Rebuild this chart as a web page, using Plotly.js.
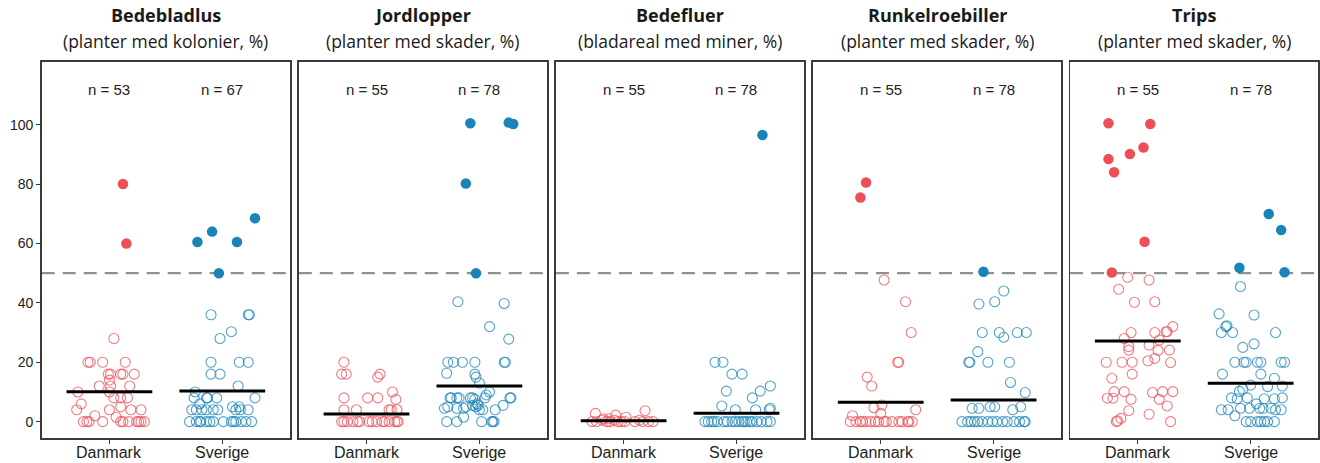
<!DOCTYPE html>
<html><head><meta charset="utf-8">
<script src="https://cdn.plot.ly/plotly-3.0.1.min.js"></script>
<style>html,body{margin:0;padding:0;background:#fff}#chart{width:1320px;height:463px}</style>
</head><body><div id="chart"></div>
<script>
// ---------------- DATA ----------------
const groups = ['Danmark', 'Sverige'];
const titles = ['Bedebladlus', 'Jordlopper', 'Bedefluer', 'Runkelroebiller', 'Trips'];
const subtitles = ['(planter med kolonier, %)', '(planter med skader, %)', '(bladareal med miner, %)', '(planter med skader, %)', '(planter med skader, %)'];
const nDK = [53, 55, 55, 55, 55];
const nSE = [67, 78, 78, 78, 78];
const medianDK = [10.1, 2.6, 0.3, 6.5, 27.2];
const medianSE = [10.3, 12, 2.8, 7.3, 12.9];
const threshold = 50;

// Bedebladlus
const bbDK = [80,60,28, 20,20,20,20, 16,16,16,16,16, 14, 12,12,12, 10,10, 8,8,8, 6, 4,4,5,4,4, 2,1.5, 0,0,0,0,0,0,0,0,0,0,0];
const bbDKjit = [0.12,0.15,0.04, -0.19,-0.17,-0.06,0.14, -0.01,0.01,0.10,0.12,0.22, 0.0, -0.09,0.01,0.18, -0.28,0, 0.10,0.16,0.04, -0.25, -0.29,0,0.10,0.19,0.28, -0.13,0.06, -0.23,-0.18,-0.06,0.10,0.17,0.24,0.26,0.28,0.31,-0.2,0.12];
const bbSE = [68.5,64,60.5,60.5,50, 36,36,36,30.3,28, 20,20,20,16,16,12,10, 8,8,8,8,8,6, 4,4,4,4,4,4,5,4,5,4,4, 0,0,0,0,0,0,0,0,0,0,0,0,0,0];
const bbSEjit = [0.29,-0.09,-0.22,0.13,-0.03, -0.10,0.23,0.24,0.08,-0.02, -0.10,0.15,0.23,-0.10,-0.02,0.14,-0.24, -0.25,-0.14,-0.13,-0.05,0.29,-0.20, -0.27,-0.23,-0.18,-0.14,-0.08,-0.04,0.09,0.12,0.15,0.23,0.16, -0.29,-0.23,-0.19,-0.14,-0.11,-0.08,0.01,0.08,0.12,0.17,0.21,0.26,-0.20,0.10];

// Jordlopper
const jlDK = [20,16,16,15,16,10, 8,8,8,7.5, 4,4,4,4,4, 0,0,0,0,0,0,0,0,0,0,0,0,0,0,0];
const jlDKjit = [-0.20,-0.22,-0.18,0.10,0.12,0.23, -0.20,0.01,0.10,0.26, -0.20,-0.09,0.20,0.22,0.27, -0.22,-0.20,-0.12,-0.08,-0.06,0.02,0.09,0.14,0.16,0.25,0.27,0.28,-0.17,0.05,0.20];
const jlSE = [100.5,100.7,100.2,80.2,50, 40.4,39.8,32,27.8, 20,20,20,20,20,20, 16.3,16,15,13, 8,8,8,8,8,8,7.5,10,9,8,8,8, 4.5,5,4.5,4.5,5,5.5,5,4,5.5,4,5.5, 0,0,1.5,0,0,0,0,4,6];
const jlSEjit = [-0.08,0.26,0.30,-0.12,-0.03, -0.19,0.22,0.09,0.26, -0.28,-0.23,-0.15,-0.04,0.22,0.23, -0.29,-0.04,-0.03,0, -0.26,-0.25,-0.20,-0.18,-0.08,-0.06,-0.04,0.09,0.06,0.05,0.27,0.28, -0.31,-0.28,-0.20,-0.14,-0.12,-0.06,-0.03,0,-0.01,0.14,0.21, -0.29,-0.20,-0.14,0.02,0.11,0.12,0.13,0.03,-0.02];

// Bedefluer
const bfDK = [2.8,3.7,2.2,1,1,1.5, 0,0,0.5,0,0,0.5,0,0,0,0.5,0,0,0,0];
const bfDKjit = [-0.25,0.19,-0.07,-0.18,-0.13,0.02, -0.28,-0.24,-0.19,-0.15,-0.12,-0.08,-0.02,0.01,0.10,0.14,0.17,0.26,-0.05,0.22];
const bfSE = [96.5, 20,20,16,16,12,10.3,10.3,8,5.3,4,4,4.5,4, 0,0,0,0,0,0,0,0,0,0,0,0,0,0,0,0,0,0,0];
const bfSEjit = [0.23, -0.19,-0.12,-0.04,0.05,0.30,-0.09,0.21,0.14,-0.13,-0.01,0.17,0.30,0.29, -0.28,-0.25,-0.20,-0.17,-0.11,-0.08,-0.04,-0.01,0.02,0.05,0.09,0.14,0.18,0.22,0.27,0.30,-0.22,0.07,0.12];

// Runkelroebiller
const rbDK = [80.5,75.5,47.7,40.4,30,20,20,15,12,4.7,5.6,2.8,4,2, 0,0,0,0,0,0,0,0,0,0,0,0,0,0,0,0];
const rbDKjit = [-0.13,-0.18,0.03,0.22,0.27,0.15,0.16,-0.12,-0.08,-0.06,0.01,0,0.31,-0.25, -0.27,-0.22,-0.18,-0.16,-0.13,-0.09,-0.05,-0.02,0.03,0.05,0.10,0.16,0.19,0.25,0.28,0.24];
const rbSE = [50.5,44,39.6,40.4,30,30,28.4,30,30,23.6,20,20,20,20,13.2,9.8,5,4.5,4.5,5,5,4, 0,0,0,0,0,0,0,0,0,0,0,0,0,0,0];
const rbSEjit = [-0.09,0.09,-0.13,0.01,-0.10,0.05,0.09,0.21,0.29,-0.14,-0.22,-0.21,-0.05,0.14,0.15,0.28,0.24,-0.19,-0.13,-0.03,0.01,0.17, -0.28,-0.23,-0.20,-0.17,-0.14,-0.10,-0.05,-0.01,0.03,0.08,0.12,0.18,0.23,0.27,0.28];

// Trips
const trDK = [100.5,100.2,92.3,90.1,88.4,84,60.6,50.2, 48.6,47.7,44.6,40.2,40.4, 32,30.3,30.3,30,30, 28,27.5,25.8,25.3,24.1, 24.1,24,21.3,20.5,20, 20,20,19.9,14.6,16, 10.1,10.1,9.8,10.1,10.1, 7.9,7.9,7.5,7.5,5.3, 3.7,2.5,1.1,0,0.3, 0];
const trDKjit = [-0.26,0.11,0.05,-0.07,-0.26,-0.21,0.06,-0.23, -0.09,0.10,-0.17,-0.03,0.15, 0.31,0.25,0.26,0.15,-0.06, -0.12,0.19,0.10,-0.08,-0.08, 0.28,0.18,0.15,0.09,-0.28, -0.14,-0.05,0.29,-0.23,-0.05, -0.21,-0.12,0.13,0.22,0.31, -0.27,-0.22,-0.06,0.19,0.26, -0.08,0.10,-0.15,-0.19,-0.18, 0.29];
const trSE = [69.9,64.5,51.8,50.3, 45.5,36.3,35.9,32.3,32,30,30,30,26.2,25, 20,20,20,20,20,20,20,16,16,14.6,12.3,10.2,11,11.8,12, 8,7.7,8,7.7,7.7,8, 4,4.5,4.5,4.5,4.5,4.5,4,4,4,6, 2,0,0,0,0,0,0,0];
const trSEjit = [0.16,0.27,-0.10,0.30, -0.09,-0.28,0.03,-0.21,-0.22,-0.26,-0.16,0.22,0.03,-0.07, -0.14,-0.06,-0.04,0.06,0.09,0.27,0.30,-0.25,0.09,0.21,0,-0.10,-0.07,0.15,0.28, -0.17,-0.12,-0.03,0.12,0.21,0.28, -0.20,-0.09,-0.01,0.08,0.11,0.18,0.27,-0.26,0.22,0.05, -0.14,-0.04,0.06,0.09,0.12,0.21,0.0,0.15];

const panelsDK = [[bbDK,bbDKjit],[jlDK,jlDKjit],[bfDK,bfDKjit],[rbDK,rbDKjit],[trDK,trDKjit]];
const panelsSE = [[bbSE,bbSEjit],[jlSE,jlSEjit],[bfSE,bfSEjit],[rbSE,rbSEjit],[trSE,trSEjit]];

// ---------------- STYLE ----------------
const colRed = '#EE4F57';
const colRedOpen = 'rgba(238,79,87,0.75)';
const colBlue = '#1A84B8';
const colBlueOpen = 'rgba(26,132,184,0.75)';
const W = 1320, H = 463;
const panelLeft0 = 41.7, panelStep = 257.1, panelW = 248.3;
const yDom = [24.7 / H, 401.3 / H];
const font = 'Liberation Sans, Arial, sans-serif';
const titleFont = 'Open Sans, Liberation Sans, Arial, sans-serif';

const traces = [];
const layout = {
  width: W, height: H,
  margin: {l: 0, r: 0, t: 0, b: 0},
  paper_bgcolor: '#fff', plot_bgcolor: '#fff',
  showlegend: false,
  font: {family: font, color: '#222'},
  shapes: [], annotations: []
};

function addGroup(vals, jit, gi, k, colFill, colOpen) {
  const xs = vals.map((v, i) => gi + jit[i]);
  const openX = [], openY = [], fillX = [], fillY = [];
  vals.forEach((v, i) => {
    if (v >= threshold) { fillX.push(xs[i]); fillY.push(v); }
    else { openX.push(xs[i]); openY.push(v); }
  });
  const xa = 'x' + (k ? k + 1 : ''), ya = 'y' + (k ? k + 1 : '');
  traces.push({type: 'scatter', mode: 'markers', x: openX, y: openY, xaxis: xa, yaxis: ya,
    marker: {symbol: 'circle-open', size: 10, color: colOpen, line: {width: 1.1}}, hoverinfo: 'y'});
  traces.push({type: 'scatter', mode: 'markers', x: fillX, y: fillY, xaxis: xa, yaxis: ya,
    marker: {symbol: 'circle', size: 10.5, color: colFill}, hoverinfo: 'y'});
}

for (let k = 0; k < 5; k++) {
  const xa = 'x' + (k ? k + 1 : ''), ya = 'y' + (k ? k + 1 : '');
  const xKey = 'xaxis' + (k ? k + 1 : ''), yKey = 'yaxis' + (k ? k + 1 : '');
  const x0 = panelLeft0 + panelStep * k;
  layout[xKey] = {
    domain: [x0 / W, (x0 + panelW) / W], anchor: ya,
    range: [-0.6, 1.6], tickvals: [0, 1], ticktext: groups, showticklabels: false,
    showline: true, mirror: true, linecolor: '#3a3a3a', linewidth: 1.6,
    ticks: 'outside', ticklen: 4, tickcolor: '#3a3a3a', tickwidth: 1,
    showgrid: false, zeroline: false, fixedrange: true
  };
  layout[yKey] = {
    domain: yDom, anchor: xa, range: [-5.6, 121.2],
    showline: true, mirror: true, linecolor: '#3a3a3a', linewidth: 1.6,
    showgrid: false, zeroline: false, fixedrange: true,
    tickvals: [0, 20, 40, 60, 80, 100],
    ticks: k === 0 ? 'outside' : '', ticklen: 4, tickcolor: '#3a3a3a', tickwidth: 1,
    showticklabels: k === 0,
    tickfont: {size: 14, color: '#222', family: font}
  };
  // threshold line
  layout.shapes.push({type: 'line', xref: xa + ' domain', yref: ya, x0: 0, x1: 1, y0: threshold, y1: threshold,
    line: {color: '#8C9191', width: 2.2, dash: '13px,8px'}, layer: 'below'});

  addGroup(panelsDK[k][0], panelsDK[k][1], 0, k, colRed, colRedOpen);
  addGroup(panelsSE[k][0], panelsSE[k][1], 1, k, colBlue, colBlueOpen);

  // medians
  [medianDK[k], medianSE[k]].forEach((m, gi) => {
    traces.push({type: 'scatter', mode: 'lines', x: [gi - 0.38, gi + 0.38], y: [m, m], xaxis: xa, yaxis: ya,
      line: {color: '#000', width: 3}, hoverinfo: 'skip'});
  });

  // n labels and group labels
  [nDK[k], nSE[k]].forEach((n, gi) => {
    layout.annotations.push({xref: xa, yref: ya, x: gi, y: 112, text: 'n = ' + n, showarrow: false,
      font: {size: 15, color: '#222', family: font}, xanchor: 'center', yanchor: 'middle'});
    layout.annotations.push({xref: xa, yref: 'paper', x: gi, y: 1 - 452.5 / H, text: groups[gi], showarrow: false,
      font: {size: 16, color: '#222', family: font}, xanchor: 'center', yanchor: 'middle'});
  });

  // titles
  const cx = (x0 + panelW / 2) / W;
  layout.annotations.push({xref: 'paper', yref: 'paper', x: cx, y: 1 - 15 / H, text: '<b>' + titles[k] + '</b>',
    showarrow: false, xanchor: 'center', yanchor: 'middle', font: {size: 18, color: '#1a1a1a', family: titleFont}});
  layout.annotations.push({xref: 'paper', yref: 'paper', x: cx, y: 1 - 41 / H, text: subtitles[k],
    showarrow: false, xanchor: 'center', yanchor: 'middle', font: {size: 17.5, color: '#1a1a1a', family: titleFont}});
}

Plotly.newPlot('chart', traces, layout, {displayModeBar: false, staticPlot: true});
</script>
</body></html>
